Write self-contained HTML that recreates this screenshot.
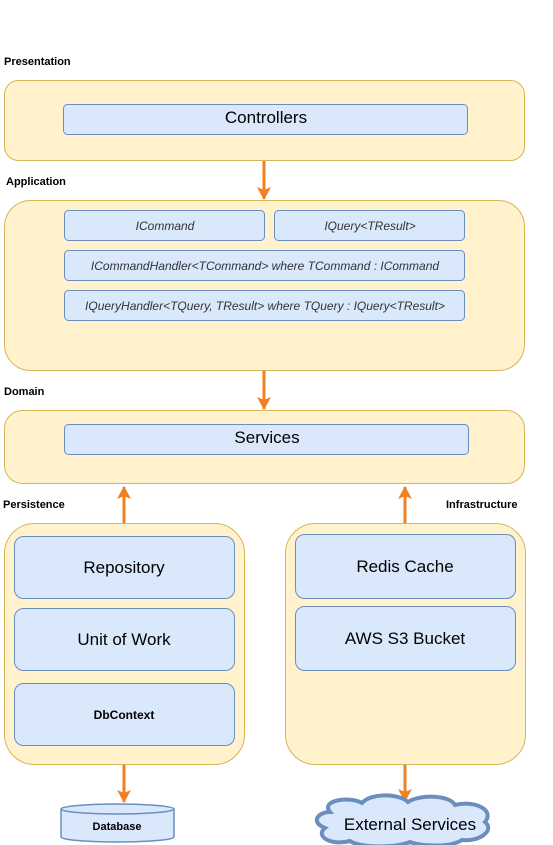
<!DOCTYPE html>
<html><head><style>body{margin:0;background:#fff}svg{display:block}</style></head><body>
<svg width="553" height="845" xmlns="http://www.w3.org/2000/svg" font-family="Liberation Sans, Arial, sans-serif">
<defs><marker id="a" markerWidth="14" markerHeight="14" refX="12" refY="7" orient="auto" markerUnits="userSpaceOnUse"><path d="M0,0 L13,7 L0,14 L3,7 Z" fill="#f08020"/></marker></defs>
<g font-size="11" font-weight="bold" fill="#000">
<text x="4" y="65">Presentation</text>
<text x="6" y="185">Application</text>
<text x="4" y="395">Domain</text>
<text x="3" y="508">Persistence</text>
<text x="446" y="508">Infrastructure</text>
</g>
<g fill="#fff2cc" stroke="#d6b656">
<rect x="4.5" y="80.5" width="520" height="80" rx="14"/>
<rect x="4.5" y="200.5" width="520" height="170" rx="26"/>
<rect x="4.5" y="410.5" width="520" height="73" rx="18"/>
<rect x="4.5" y="523.5" width="240" height="241" rx="30"/>
<rect x="285.5" y="523.5" width="240" height="241" rx="30"/>
</g>
<g fill="#dae8fc" stroke="#6c8ebf">
<rect x="63.5" y="104.5" width="404" height="30" rx="4"/>
<rect x="64.5" y="210.5" width="200" height="30" rx="4"/>
<rect x="274.5" y="210.5" width="190" height="30" rx="4"/>
<rect x="64.5" y="250.5" width="400" height="30" rx="4"/>
<rect x="64.5" y="290.5" width="400" height="30" rx="4"/>
<rect x="64.5" y="424.5" width="404" height="30" rx="4"/>
<rect x="14.5" y="536.5" width="220" height="62" rx="9"/>
<rect x="14.5" y="608.5" width="220" height="62" rx="9"/>
<rect x="14.5" y="683.5" width="220" height="62" rx="9"/>
<rect x="295.5" y="534.5" width="220" height="64" rx="9"/>
<rect x="295.5" y="606.5" width="220" height="64" rx="9"/>
</g>
<g font-size="17" text-anchor="middle" fill="#000">
<text x="266" y="123">Controllers</text>
<text x="267" y="443">Services</text>
<text x="124" y="573">Repository</text>
<text x="124" y="645">Unit of Work</text>
<text x="405" y="572">Redis Cache</text>
<text x="405" y="644">AWS S3 Bucket</text>
</g>
<text x="124" y="719" font-size="12" font-weight="bold" text-anchor="middle">DbContext</text>
<g font-size="12" font-style="italic" text-anchor="middle" fill="#333">
<text x="165" y="230">ICommand</text>
<text x="370" y="230">IQuery&lt;TResult&gt;</text>
<text x="265" y="270">ICommandHandler&lt;TCommand&gt; where TCommand : ICommand</text>
<text x="265" y="310">IQueryHandler&lt;TQuery, TResult&gt; where TQuery : IQuery&lt;TResult&gt;</text>
</g>
<g stroke="#f08020" stroke-width="3" marker-end="url(#a)">
<line x1="264" y1="161" x2="264" y2="199"/>
<line x1="264" y1="371" x2="264" y2="409"/>
<line x1="124" y1="523" x2="124" y2="487"/>
<line x1="405" y1="523" x2="405" y2="487"/>
<line x1="124" y1="765" x2="124" y2="802"/>
<line x1="405" y1="765" x2="405" y2="801"/>
</g>
<g fill="#dae8fc" stroke="#6c8ebf" stroke-width="1.5">
<path d="M61,809 L61,837 A56.5,5 0 0 0 174,837 L174,809"/>
<ellipse cx="117.5" cy="809" rx="56.5" ry="5"/>
</g>
<text x="117" y="830" font-size="11" font-weight="bold" text-anchor="middle">Database</text>
<path d="M330,812 C320,800 350,796 362,803 C372,792 400,794 408,802 C420,794 450,795 455,805 C475,800 495,810 485,822 C495,830 480,842 462,840 C450,848 420,846 410,842 C395,848 360,848 350,841 C330,846 315,836 325,828 C310,822 318,812 330,812 Z" fill="#dae8fc" stroke="#6c8ebf" stroke-width="4"/>
<text x="410" y="830" font-size="17" text-anchor="middle">External Services</text>
</svg>
</body></html>
